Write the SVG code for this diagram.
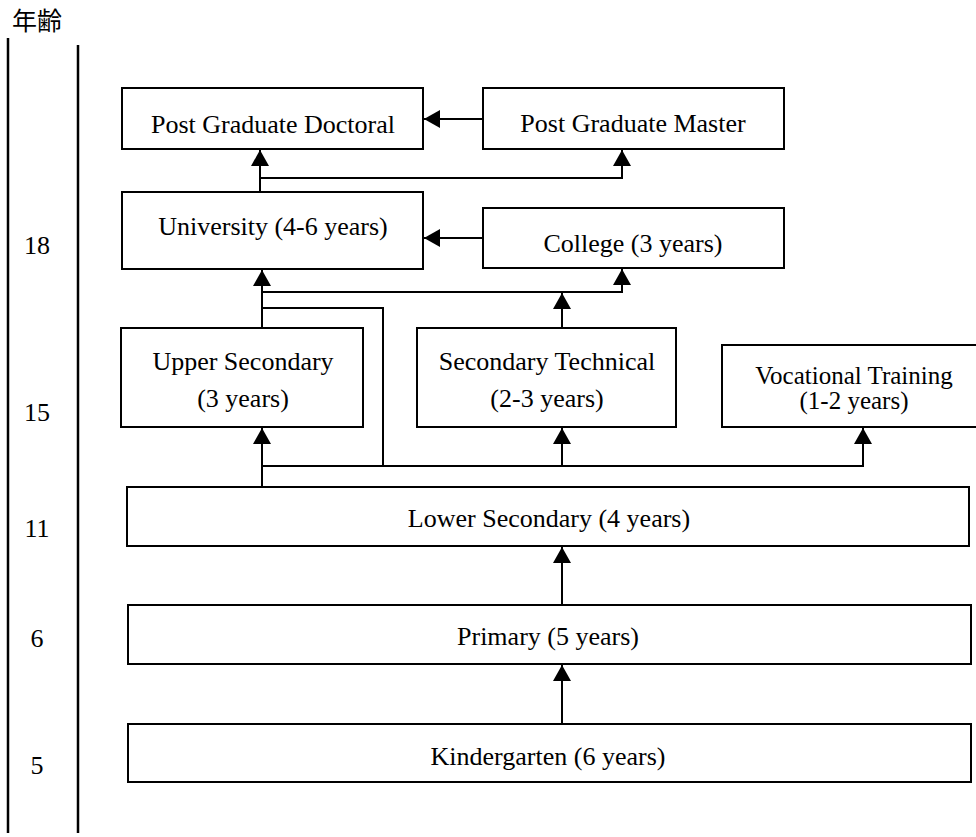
<svg xmlns="http://www.w3.org/2000/svg" width="976" height="837" viewBox="0 0 976 837">
<style>
.box{fill:#fff;stroke:#000;stroke-width:2}
.t{font-family:"Liberation Serif","Times New Roman",serif;font-size:26px;fill:#000;text-anchor:middle}
.s{font-size:25px}
.c{fill:none;stroke:#000;stroke-width:2}
.a{marker-end:url(#arr)}
.ax{stroke:#000;stroke-width:2.5}
</style>
<defs>
<marker id="arr" markerUnits="userSpaceOnUse" viewBox="0 0 16 18" refX="16" refY="9" markerWidth="16" markerHeight="18" orient="auto">
<path d="M0,0 L16,9 L0,18 z" fill="#000"/>
</marker>
</defs>
<rect width="976" height="837" fill="#fff"/>
<g id="axis">
<text x="12" y="30" style="font-family:'Noto Sans CJK JP','Noto Sans CJK SC',sans-serif;font-size:25px">年齢</text>
<line class="ax" x1="8" y1="38" x2="8" y2="833"/>
<line class="ax" x1="78" y1="45" x2="78" y2="833"/>
<text class="t" x="37" y="254">18</text>
<text class="t" x="37" y="421">15</text>
<text class="t" x="37" y="537">11</text>
<text class="t" x="37" y="647">6</text>
<text class="t" x="37" y="774">5</text>
</g>
<g id="doctoral"><rect class="box" x="122" y="88" width="301" height="61"/><text class="t" x="273" y="133">Post Graduate Doctoral</text></g>
<g id="master"><rect class="box" x="483" y="88" width="301" height="61"/><text class="t" x="633" y="132">Post Graduate Master</text></g>
<g id="university"><rect class="box" x="122" y="192" width="301" height="77"/><text class="t" x="273" y="235">University (4-6 years)</text></g>
<g id="college"><rect class="box" x="483" y="208" width="301" height="60"/><text class="t" x="633" y="252">College (3 years)</text></g>
<g id="upper-secondary"><rect class="box" x="121" y="328" width="242" height="99"/><text class="t" x="243" y="370">Upper Secondary</text><text class="t" x="243" y="407">(3 years)</text></g>
<g id="secondary-technical"><rect class="box" x="417" y="328" width="259" height="99"/><text class="t" x="547" y="370">Secondary Technical</text><text class="t" x="547" y="407">(2-3 years)</text></g>
<g id="vocational"><rect class="box" x="722" y="345" width="270" height="82"/><text class="t s" x="854" y="384">Vocational Training</text><text class="t s" x="854" y="409">(1-2 years)</text></g>
<g id="lower-secondary"><rect class="box" x="127" y="487" width="842" height="59"/><text class="t" x="549" y="527">Lower Secondary (4 years)</text></g>
<g id="primary"><rect class="box" x="128" y="605" width="843" height="59"/><text class="t" x="548" y="645">Primary (5 years)</text></g>
<g id="kindergarten"><rect class="box" x="128" y="724" width="843" height="58"/><text class="t" x="548" y="765">Kindergarten (6 years)</text></g>
<g id="connectors">
<path class="c a" d="M483,119 H424"/>
<path class="c a" d="M483,238 H424"/>
<path class="c a" d="M260,192 V150"/>
<path class="c a" d="M260,178 H622 V150"/>
<path class="c a" d="M262,328 V270"/>
<path class="c a" d="M262,292 H622 V269"/>
<path class="c" d="M262,308 H383 V466"/>
<path class="c a" d="M562,328 V293"/>
<path class="c a" d="M262,487 V428"/>
<path class="c a" d="M262,466 H863 V428"/>
<path class="c a" d="M562,466 V428"/>
<path class="c a" d="M562,605 V547"/>
<path class="c a" d="M562,724 V665"/>
</g>
</svg>
